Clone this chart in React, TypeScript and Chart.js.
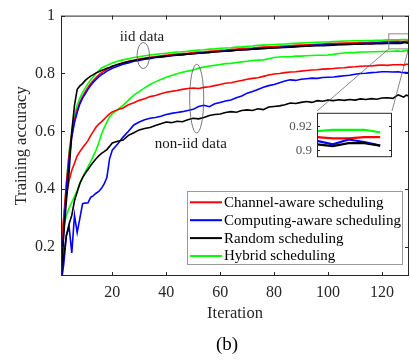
import React, { useEffect, useRef } from 'react';
import { Chart, registerables } from 'chart.js';

Chart.register(...registerables);

// ---------- data ----------
const ITER = [
  1, 2, 3, 4, 5, 6, 7, 8, 9, 10,
  11, 12, 13, 14, 15, 16, 17, 18, 19, 20,
  22, 24, 26, 28, 30, 32, 34, 36, 38, 40,
  42, 44, 46, 48, 50, 52, 54, 56, 58, 60,
  62, 64, 66, 68, 70, 72, 74, 76, 78, 80,
  82, 84, 86, 88, 90, 92, 94, 96, 98, 100,
  102, 104, 106, 108, 110, 112, 114, 116, 118, 120,
  122, 124, 126, 127, 128, 129, 130,
];

// iid data
const HYBRID_IID = [
  0.10, 0.28, 0.42, 0.53, 0.60, 0.655, 0.69, 0.715, 0.735, 0.75,
  0.765, 0.778, 0.789, 0.80, 0.81, 0.818, 0.823, 0.828, 0.832, 0.836,
  0.842, 0.847, 0.851, 0.855, 0.858, 0.861, 0.864, 0.866, 0.868, 0.870,
  0.872, 0.874, 0.875, 0.877, 0.879, 0.881, 0.882, 0.884, 0.885, 0.887,
  0.888, 0.889, 0.891, 0.892, 0.894, 0.895, 0.897, 0.898, 0.899, 0.900,
  0.901, 0.902, 0.903, 0.904, 0.905, 0.906, 0.907, 0.908, 0.909, 0.909,
  0.910, 0.911, 0.912, 0.912, 0.913, 0.913, 0.914, 0.914, 0.915, 0.915,
  0.916, 0.916, 0.916, 0.917, 0.917, 0.917, 0.915,
];
const CHANNEL_IID = [
  0.12, 0.30, 0.42, 0.52, 0.59, 0.64, 0.675, 0.70, 0.72, 0.737,
  0.752, 0.765, 0.776, 0.786, 0.795, 0.802, 0.808, 0.814, 0.819, 0.824,
  0.831, 0.837, 0.842, 0.846, 0.850, 0.853, 0.856, 0.858, 0.861, 0.863,
  0.865, 0.867, 0.869, 0.870, 0.872, 0.874, 0.875, 0.877, 0.878, 0.880,
  0.881, 0.883, 0.884, 0.886, 0.887, 0.888, 0.890, 0.891, 0.892, 0.893,
  0.894, 0.895, 0.896, 0.897, 0.898, 0.899, 0.900, 0.901, 0.902, 0.903,
  0.903, 0.904, 0.905, 0.905, 0.906, 0.907, 0.907, 0.908, 0.908, 0.909,
  0.910, 0.910, 0.911, 0.910, 0.910, 0.911, 0.911,
];
const COMPUTING_IID = [
  0.08, 0.26, 0.40, 0.50, 0.58, 0.63, 0.665, 0.695, 0.715, 0.73,
  0.745, 0.758, 0.77, 0.779, 0.788, 0.796, 0.801, 0.808, 0.813, 0.818,
  0.825, 0.832, 0.836, 0.842, 0.845, 0.849, 0.851, 0.855, 0.856, 0.859,
  0.861, 0.863, 0.864, 0.867, 0.868, 0.870, 0.872, 0.873, 0.875, 0.876,
  0.878, 0.879, 0.880, 0.882, 0.883, 0.884, 0.886, 0.887, 0.888, 0.889,
  0.890, 0.892, 0.892, 0.894, 0.895, 0.895, 0.897, 0.898, 0.898, 0.899,
  0.900, 0.900, 0.901, 0.902, 0.902, 0.903, 0.904, 0.904, 0.905, 0.905,
  0.906, 0.907, 0.908, 0.905, 0.909, 0.907, 0.904,
];
const RANDOM_IID = [
  0.10, 0.24, 0.36, 0.46, 0.60, 0.69, 0.745, 0.757, 0.765, 0.776,
  0.784, 0.791, 0.796, 0.802, 0.806, 0.810, 0.814, 0.818, 0.821, 0.825,
  0.831, 0.836, 0.841, 0.845, 0.848, 0.851, 0.854, 0.856, 0.858, 0.860,
  0.862, 0.864, 0.865, 0.867, 0.868, 0.870, 0.871, 0.873, 0.874, 0.876,
  0.877, 0.878, 0.880, 0.881, 0.882, 0.884, 0.885, 0.886, 0.887, 0.888,
  0.889, 0.890, 0.891, 0.892, 0.893, 0.894, 0.895, 0.896, 0.896, 0.897,
  0.898, 0.899, 0.899, 0.900, 0.901, 0.901, 0.902, 0.902, 0.903, 0.903,
  0.904, 0.904, 0.905, 0.9035, 0.906, 0.906, 0.904,
];

// non-iid data
const HYBRID_NONIID = [
  0.22, 0.27, 0.31, 0.335, 0.355, 0.375, 0.395, 0.42, 0.44, 0.46,
  0.478, 0.495, 0.515, 0.535, 0.56, 0.59, 0.612, 0.632, 0.65, 0.66,
  0.675, 0.69, 0.708, 0.725, 0.737, 0.75, 0.762, 0.771, 0.779, 0.787,
  0.793, 0.799, 0.804, 0.808, 0.812, 0.818, 0.822, 0.826, 0.828, 0.831,
  0.834, 0.835, 0.838, 0.840, 0.842, 0.845, 0.846, 0.847, 0.851, 0.855,
  0.857, 0.858, 0.858, 0.860, 0.860, 0.861, 0.862, 0.863, 0.863, 0.864,
  0.866, 0.869, 0.871, 0.872, 0.872, 0.874, 0.874, 0.875, 0.875, 0.876,
  0.876, 0.877, 0.878, 0.876, 0.878, 0.879, 0.880,
];
const CHANNEL_NONIID = [
  0.19, 0.30, 0.38, 0.43, 0.465, 0.49, 0.515, 0.53, 0.543, 0.555,
  0.568, 0.585, 0.60, 0.615, 0.625, 0.633, 0.642, 0.652, 0.66, 0.667,
  0.675, 0.681, 0.692, 0.699, 0.707, 0.713, 0.72, 0.724, 0.73, 0.735,
  0.738, 0.741, 0.745, 0.748, 0.75, 0.748, 0.752, 0.754, 0.758, 0.762,
  0.766, 0.768, 0.772, 0.776, 0.780, 0.783, 0.785, 0.790, 0.795, 0.798,
  0.800, 0.803, 0.805, 0.806, 0.808, 0.810, 0.812, 0.813, 0.815, 0.816,
  0.817, 0.819, 0.820, 0.822, 0.823, 0.825, 0.826, 0.826, 0.828, 0.829,
  0.828, 0.830, 0.830, 0.831, 0.829, 0.832, 0.832,
];
const COMPUTING_NONIID = [
  0.07, 0.14, 0.24, 0.27, 0.18, 0.31, 0.25, 0.30, 0.35, 0.352,
  0.353, 0.372, 0.378, 0.386, 0.392, 0.403, 0.418, 0.44, 0.505, 0.535,
  0.556, 0.58, 0.60, 0.622, 0.632, 0.64, 0.645, 0.648, 0.652, 0.658,
  0.662, 0.665, 0.668, 0.672, 0.676, 0.686, 0.69, 0.685, 0.695, 0.70,
  0.705, 0.708, 0.716, 0.722, 0.732, 0.738, 0.745, 0.752, 0.758, 0.762,
  0.768, 0.774, 0.778, 0.776, 0.78, 0.782, 0.784, 0.783, 0.786, 0.787,
  0.788, 0.79, 0.792, 0.794, 0.797, 0.80, 0.801, 0.803, 0.804, 0.806,
  0.806, 0.805, 0.806, 0.804, 0.803, 0.803, 0.802,
];
const RANDOM_NONIID = [
  0.09, 0.17, 0.24, 0.28, 0.31, 0.36, 0.39, 0.42, 0.44, 0.455,
  0.468, 0.482, 0.494, 0.505, 0.515, 0.524, 0.53, 0.537, 0.548, 0.56,
  0.566, 0.57, 0.586, 0.595, 0.605, 0.61, 0.613, 0.62, 0.626, 0.632,
  0.63, 0.635, 0.633, 0.64, 0.645, 0.643, 0.648, 0.655, 0.658, 0.66,
  0.665, 0.668, 0.666, 0.672, 0.674, 0.672, 0.678, 0.675, 0.684, 0.686,
  0.688, 0.692, 0.698, 0.696, 0.70, 0.703, 0.70, 0.706, 0.704, 0.708,
  0.706, 0.709, 0.707, 0.71, 0.708, 0.712, 0.71, 0.713, 0.711, 0.715,
  0.716, 0.714, 0.726, 0.722, 0.718, 0.725, 0.722,
];

const X_TICKS = [20, 40, 60, 80, 100, 120];
const Y_TICKS = [0.2, 0.4, 0.6, 0.8, 1];
const INSET_Y_TICKS = [0.9, 0.92];

const LEGEND_LABELS = [
  'Channel-aware scheduling',
  'Computing-aware scheduling',
  'Random scheduling',
  'Hybrid scheduling',
];
const COLORS = ['#ff0000', '#0000ff', '#000000', '#00ff00'];

// annotation positions (data coordinates)
const ZOOM_RECT = { x0: 122.5, x1: 129.8, y0: 0.885, y1: 0.937 };
const IID_ELLIPSE = { x: 31.5, y: 0.862, rx: 2.3, ry: 0.045 };
const NONIID_ELLIPSE = { x: 51.3, y: 0.713, rx: 2.6, ry: 0.119 };
const IID_LABEL = { x: 31.0, y: 0.912, text: 'iid data' };
const NONIID_LABEL = { x: 49.1, y: 0.543, text: 'non-iid data' };

// ---------- layout ----------
const W = 410;
const H = 360;
const INSET = { left: 280, top: 100, width: 115, height: 70, axisW: 37, padTop: 11, padRight: 3, padBottom: 7 };
const FONT = "'Liberation Serif', 'Times New Roman', serif";
const AXIS_COLOR = '#262626';

const pts = (vals: number[], from = 0) =>
  ITER.map((x, i) => ({ x, y: vals[i] })).filter((p) => p.x >= from);

const seriesList = (from: number, width: number) => {
  const iid = [CHANNEL_IID, COMPUTING_IID, RANDOM_IID, HYBRID_IID];
  const non = [CHANNEL_NONIID, COMPUTING_NONIID, RANDOM_NONIID, HYBRID_NONIID];
  const ds: any[] = [];
  const order = [2, 1, 0, 3];
  order.forEach((k) => {
    ds.push({
      label: LEGEND_LABELS[k] + ' (iid)',
      data: pts(iid[k], from),
      borderColor: COLORS[k],
      borderWidth: width,
      pointRadius: 0,
      tension: 0,
      fill: false,
    });
  });
  if (from === 0) {
    order.forEach((k) => {
      ds.push({
        label: LEGEND_LABELS[k] + ' (non-iid)',
        data: pts(non[k]),
        borderColor: COLORS[k],
        borderWidth: width,
        pointRadius: 0,
        tension: 0,
        fill: false,
      });
    });
  }
  return ds;
};

const mainPlugin = {
  id: 'mainDecor',
  afterDatasetsDraw(chart: any) {
    const { ctx, chartArea: a, scales } = chart;
    const x = scales.x;
    const y = scales.y;
    ctx.save();

    // zoom rectangle
    const rx0 = x.getPixelForValue(ZOOM_RECT.x0);
    const rx1 = x.getPixelForValue(ZOOM_RECT.x1);
    const ry0 = y.getPixelForValue(ZOOM_RECT.y0);
    const ry1 = y.getPixelForValue(ZOOM_RECT.y1);
    ctx.strokeStyle = '#8a8a8a';
    ctx.lineWidth = 1;
    ctx.strokeRect(rx0, ry1, rx1 - rx0, ry0 - ry1);

    // connectors to inset
    const insL = INSET.left + INSET.axisW;
    const insR = INSET.left + INSET.width - INSET.padRight;
    const insT = INSET.top + INSET.padTop;
    ctx.strokeStyle = '#555';
    ctx.lineWidth = 0.7;
    ctx.beginPath();
    ctx.moveTo(insL, insT);
    ctx.lineTo(rx0, ry0);
    ctx.moveTo(insR, insT);
    ctx.lineTo(rx1, ry0);
    ctx.stroke();

    // ellipses
    [IID_ELLIPSE, NONIID_ELLIPSE].forEach((e) => {
      const cx = x.getPixelForValue(e.x);
      const cy = y.getPixelForValue(e.y);
      const erx = x.getPixelForValue(e.x + e.rx) - cx;
      const ery = cy - y.getPixelForValue(e.y + e.ry);
      ctx.beginPath();
      ctx.ellipse(cx, cy, erx, ery, 0, 0, Math.PI * 2);
      ctx.strokeStyle = '#555';
      ctx.lineWidth = 0.8;
      ctx.stroke();
    });

    // labels
    ctx.fillStyle = '#1a1a1a';
    ctx.font = `15px ${FONT}`;
    ctx.textAlign = 'center';
    ctx.textBaseline = 'alphabetic';
    [IID_LABEL, NONIID_LABEL].forEach((l) => {
      ctx.fillText(l.text, x.getPixelForValue(l.x), y.getPixelForValue(l.y));
    });

    // frame
    ctx.strokeStyle = AXIS_COLOR;
    ctx.lineWidth = 1;
    ctx.strokeRect(a.left + 0.5, a.top + 0.5, a.right - a.left - 1, a.bottom - a.top - 1);
    const TL = 4;
    ctx.beginPath();
    X_TICKS.forEach((v) => {
      const px = Math.round(x.getPixelForValue(v)) + 0.5;
      ctx.moveTo(px, a.bottom);
      ctx.lineTo(px, a.bottom - TL);
      ctx.moveTo(px, a.top);
      ctx.lineTo(px, a.top + TL);
    });
    Y_TICKS.forEach((v) => {
      const py = Math.round(y.getPixelForValue(v)) + 0.5;
      ctx.moveTo(a.left, py);
      ctx.lineTo(a.left + TL, py);
      ctx.moveTo(a.right, py);
      ctx.lineTo(a.right - TL, py);
    });
    ctx.stroke();

    // axis titles
    ctx.fillStyle = AXIS_COLOR;
    ctx.font = `16.5px ${FONT}`;
    ctx.textAlign = 'center';
    ctx.textBaseline = 'middle';
    ctx.fillText('Iteration', (a.left + a.right) / 2, 314);
    ctx.font = `19px ${FONT}`;
    ctx.fillStyle = '#000';
    ctx.fillText('(b)', 227, 345);
    ctx.save();
    ctx.translate(22, (a.top + a.bottom) / 2);
    ctx.rotate(-Math.PI / 2);
    ctx.font = `16.5px ${FONT}`;
    ctx.fillStyle = AXIS_COLOR;
    ctx.fillText('Training accuracy', 0, 0);
    ctx.restore();

    // legend
    const lx = 187, ly = 191, lw = 216, lh = 74;
    ctx.fillStyle = '#fff';
    ctx.fillRect(lx, ly, lw, lh);
    ctx.strokeStyle = '#9a9a9a';
    ctx.lineWidth = 1;
    ctx.strokeRect(lx + 0.5, ly + 0.5, lw - 1, lh - 1);
    ctx.font = `15px ${FONT}`;
    ctx.textAlign = 'left';
    ctx.textBaseline = 'middle';
    LEGEND_LABELS.forEach((lab, i) => {
      const cy = 202.3 + i * 17.9;
      ctx.strokeStyle = COLORS[i];
      ctx.lineWidth = 2;
      ctx.beginPath();
      ctx.moveTo(190, cy);
      ctx.lineTo(222, cy);
      ctx.stroke();
      ctx.fillStyle = '#000';
      ctx.fillText(lab, 224, cy + 0.5);
    });

    ctx.restore();
  },
};

const insetPlugin = {
  id: 'insetDecor',
  beforeDatasetsDraw(chart: any) {
    const { ctx, chartArea: a } = chart;
    ctx.save();
    ctx.fillStyle = '#fff';
    ctx.fillRect(a.left, a.top, a.right - a.left, a.bottom - a.top);
    ctx.restore();
  },
  afterDatasetsDraw(chart: any) {
    const { ctx, chartArea: a, scales } = chart;
    const y = scales.y;
    ctx.save();
    ctx.strokeStyle = AXIS_COLOR;
    ctx.lineWidth = 1;
    ctx.strokeRect(a.left + 0.5, a.top + 0.5, a.right - a.left - 1, a.bottom - a.top - 1);
    ctx.beginPath();
    INSET_Y_TICKS.forEach((v) => {
      const py = Math.round(y.getPixelForValue(v)) + 0.5;
      ctx.moveTo(a.left, py);
      ctx.lineTo(a.left + 3, py);
      ctx.moveTo(a.right, py);
      ctx.lineTo(a.right - 3, py);
    });
    ctx.stroke();
    ctx.restore();
  },
};

export default function App() {
  const mainRef = useRef<HTMLCanvasElement | null>(null);
  const insetRef = useRef<HTMLCanvasElement | null>(null);

  useEffect(() => {
    if (!mainRef.current || !insetRef.current) return;
    const main = new Chart(mainRef.current, {
      type: 'line',
      data: { datasets: seriesList(0, 1.6) },
      options: {
        animation: false,
        responsive: false,
        devicePixelRatio: 1,
        layout: { padding: { top: 12, right: 1, left: 0, bottom: 0 } },
        plugins: { legend: { display: false }, tooltip: { enabled: false } },
        scales: {
          x: {
            type: 'linear',
            min: 1,
            max: 130,
            afterBuildTicks: (s: any) => { s.ticks = X_TICKS.map((v) => ({ value: v })); },
            afterFit: (s: any) => { s.height = H - 276; },
            grid: { display: false, drawTicks: false },
            border: { display: false },
            ticks: {
              padding: 7,
              autoSkip: false,
              maxRotation: 0,
              color: AXIS_COLOR,
              font: { family: FONT, size: 16 },
              callback: (v: any) => String(v),
            },
          },
          y: {
            type: 'linear',
            min: 0.1,
            max: 1,
            afterBuildTicks: (s: any) => { s.ticks = Y_TICKS.map((v) => ({ value: v })); },
            afterFit: (s: any) => { s.width = 61; },
            grid: { display: false, drawTicks: false },
            border: { display: false },
            ticks: {
              padding: 6,
              autoSkip: false,
              color: AXIS_COLOR,
              font: { family: FONT, size: 16 },
              callback: (v: any) => String(v),
            },
          },
        },
      } as any,
      plugins: [mainPlugin],
    });

    const inset = new Chart(insetRef.current, {
      type: 'line',
      data: { datasets: seriesList(126, 2.2) },
      options: {
        animation: false,
        responsive: false,
        devicePixelRatio: 1,
        layout: { padding: { top: INSET.padTop, right: INSET.padRight, left: 0, bottom: INSET.padBottom } },
        plugins: { legend: { display: false }, tooltip: { enabled: false } },
        scales: {
          x: { type: 'linear', min: 126, max: 130.75, display: false },
          y: {
            type: 'linear',
            min: 0.8944,
            max: 0.9311,
            afterBuildTicks: (s: any) => { s.ticks = INSET_Y_TICKS.map((v) => ({ value: v })); },
            afterFit: (s: any) => { s.width = INSET.axisW; },
            grid: { display: false, drawTicks: false },
            border: { display: false },
            ticks: {
              padding: 5,
              autoSkip: false,
              color: '#555',
              font: { family: FONT, size: 13 },
              callback: (v: any) => String(v),
            },
          },
        },
      } as any,
      plugins: [insetPlugin],
    });

    return () => {
      main.destroy();
      inset.destroy();
    };
  }, []);

  return (
    <div style={{ position: 'absolute', left: 0, top: 0, width: W, height: H, background: '#fff' }}>
      <canvas ref={mainRef} width={W} height={H} style={{ position: 'absolute', left: 0, top: 0, width: W, height: H }} />
      <canvas
        ref={insetRef}
        width={INSET.width}
        height={INSET.height}
        style={{ position: 'absolute', left: INSET.left, top: INSET.top, width: INSET.width, height: INSET.height }}
      />
    </div>
  );
}
